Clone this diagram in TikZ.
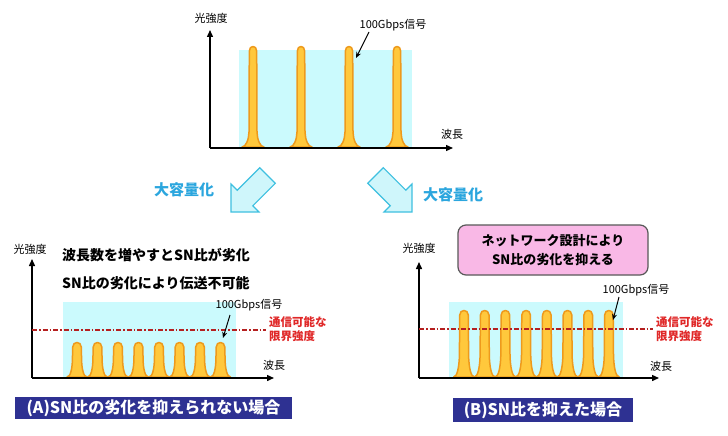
\documentclass[tikz,border=0pt]{standalone}
\usepackage{fontspec}
\setmainfont{Noto Sans CJK JP}
\usetikzlibrary{arrows.meta}
\definecolor{cyanbg}{HTML}{CBFAFD}
\definecolor{pkfill}{HTML}{FFC83C}
\definecolor{pkline}{HTML}{EE9A1C}
\definecolor{limred}{HTML}{B52020}
\definecolor{redtxt}{HTML}{E02828}
\definecolor{bluetxt}{HTML}{2BA6DE}
\definecolor{arrfill}{HTML}{CFF6FB}
\definecolor{arrline}{HTML}{3FC0E0}
\definecolor{pinkbox}{HTML}{F9B8E6}
\definecolor{navy}{HTML}{2E3192}
% #1 x0, #2 base, #3 top, #4 half base, #5 flare height, #6 half column width
\newcommand\pk[6]{({#1-#4},#2) .. controls ({#1-0.65*#4},#2) and ({#1-#6-0.2},{#2-0.5*#5}) .. ({#1-#6},{#2-#5}) -- ({#1-#6+0.3},{#3+5}) .. controls ({#1-#6+0.4},{#3-1}) and ({#1+#6-0.4},{#3-1}) .. ({#1+#6-0.3},{#3+5}) -- ({#1+#6},{#2-#5}) .. controls ({#1+#6+0.2},{#2-0.5*#5}) and ({#1+0.65*#4},#2) .. ({#1+#4},#2)}
\tikzset{
  axis/.style={line width=1.4pt,-{Triangle[length=7pt,width=6pt]}},
  peakshape/.style={fill=pkfill,draw=pkline,line width=1.5pt,line join=round},
  bgrect/.style={fill=cyanbg,draw=none},
  limit/.style={limred,line width=1.6pt,dash pattern=on 5pt off 2pt on 1.5pt off 2pt},
  lbl/.style={font=\fontsize{11}{13}\selectfont,inner sep=0pt},
  redlbl/.style={font=\fontsize{11.5}{14}\selectfont\bfseries,text=redtxt,align=left,inner sep=0pt,anchor=west},
  sigarrow/.style={line width=1pt,-{Stealth[length=6pt,width=5pt]}},
  bigarrow/.style={fill=arrfill,draw=arrline,line width=1.2pt,line join=miter},
  bluelbl/.style={font=\fontsize{15}{17}\selectfont\bfseries,text=bluetxt,inner sep=0pt},
  banner/.style={fill=navy,text=white,font=\fontsize{16}{18}\selectfont\bfseries,inner sep=0pt},
  msg/.style={font=\fontsize{14}{16}\selectfont\bfseries,inner sep=0pt,anchor=west},
}
\begin{document}
\begin{tikzpicture}[x=1pt,y=-1pt]
\useasboundingbox[fill=white] (0,0) rectangle (728,436);

% ---------- top chart ----------
\fill[bgrect] (239,50) rectangle (412,148);
\foreach \x in {253,301,349,397}{\path[peakshape] \pk{\x}{147}{46}{11}{15}{4} -- cycle;}
\coordinate (tO) at (210,148);
\coordinate (tY) at (210,30);
\coordinate (tX) at (453,148);
\draw[axis] (tO) -- (tY);
\draw[axis] (tO) -- (tX);
\node[lbl] (tYl) at (211,18) {光強度};
\node[lbl] (tXl) at (452,134) {波長};
\node[lbl] (tSig) at (393,25) {100Gbps信号};
\coordinate (tSigEnd) at (356,58);
\draw[sigarrow] (369,32) -- (tSigEnd);

% ---------- big arrows ----------
\path[bigarrow] (231,212) -- (231,184) -- (237.2,190.2) -- (259.7,167.7) -- (275.3,183.3) -- (252.8,205.8) -- (259,212) -- cycle;
\path[bigarrow] (412,212) -- (412,184) -- (405.8,190.2) -- (383.3,167.7) -- (367.7,183.3) -- (390.2,205.8) -- (384,212) -- cycle;
\node[bluelbl] (bl1) at (184,190) {大容量化};
\node[bluelbl] (bl2) at (453,195) {大容量化};

% ---------- bottom left chart ----------
\fill[bgrect] (63,302) rectangle (236,378);
\foreach \i in {0,...,7}{\path[peakshape] \pk{77+20.5*\i}{377}{342}{10}{17}{4.6} -- cycle;}
\coordinate (lO) at (32,378);
\coordinate (lY) at (32,259);
\coordinate (lX) at (274,378);
\draw[axis] (lO) -- (lY);
\draw[axis] (lO) -- (lX);
\coordinate (lL1) at (32,330);
\coordinate (lL2) at (266,330);
\draw[limit] (lL1) -- (lL2);
\node[lbl] (lYl) at (30,249) {光強度};
\node[lbl] (lXl) at (274,365) {波長};
\node[msg] (m1) at (62,255) {波長数を増やすとSN比が劣化};
\node[msg] (m2) at (62,283) {SN比の劣化により伝送不可能};
\node[lbl] (lSig) at (249,305) {100Gbps信号};
\coordinate (lSigEnd) at (223,338);
\draw[sigarrow] (230,315) -- (lSigEnd);
\node[redlbl] (lRed) at (269,329.5) {通信可能な\\限界強度};

% ---------- bottom right chart ----------
\fill[bgrect] (449,302) rectangle (623,378);
\foreach \i in {0,...,7}{\path[peakshape] \pk{464+20.7*\i}{377}{310}{10.3}{22}{4.6} -- cycle;}
\coordinate (rO) at (419,378);
\coordinate (rY) at (419,262);
\coordinate (rX) at (659,378);
\draw[axis] (rO) -- (rY);
\draw[axis] (rO) -- (rX);
\coordinate (rL1) at (419,329);
\coordinate (rL2) at (653,329);
\draw[limit] (rL1) -- (rL2);
\node[lbl] (rYl) at (419,248) {光強度};
\node[lbl] (rXl) at (661,366) {波長};
\node[lbl] (rSig) at (636,290) {100Gbps信号};
\coordinate (rSigEnd) at (613,320);
\draw[sigarrow] (619,297) -- (rSigEnd);
\node[redlbl] (rRed) at (656,329.5) {通信可能な\\限界強度};
\node[draw=black!65,fill=pinkbox,rounded corners=8pt,line width=1.2pt,minimum width=190pt,minimum height=50pt,align=center,font=\fontsize{13}{19}\selectfont\bfseries] (pink) at (553,250) {ネットワーク設計により\\SN比の劣化を抑える};

% ---------- banners ----------
\node[banner,minimum width=277pt,minimum height=22pt] (bA) at (153.5,408) {(A)SN比の劣化を抑えられない場合};
\node[banner,minimum width=180pt,minimum height=24pt] (bB) at (543,410) {(B)SN比を抑えた場合};
\end{tikzpicture}
\end{document}
